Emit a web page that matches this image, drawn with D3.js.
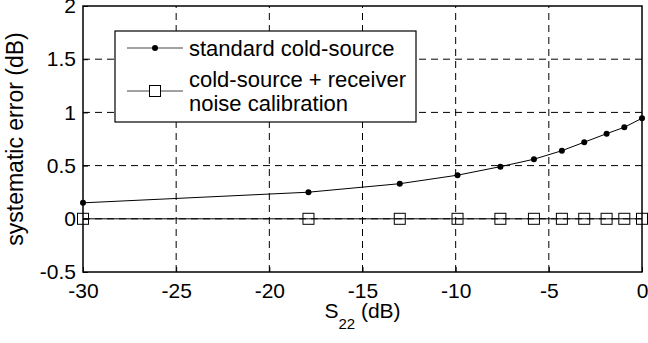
<!DOCTYPE html>
<html>
  <head>
    <meta charset="utf-8">
    <script src="https://cdn.jsdelivr.net/npm/d3@7"></script>
    <style>
      body { margin: 0; background: #fff; }
      text { font-family: "Liberation Sans", Arial, sans-serif; fill: #000; }
    </style>
  </head>
  <body>
    <script>
      // S22 values (dB)
      var s22 = [-30, -17.9, -13.0, -9.9, -7.6, -5.8, -4.3, -3.1, -1.9, -0.95, 0];
      // systematic error (dB), standard cold-source method
      var standardErr = [0.15, 0.25, 0.33, 0.41, 0.49, 0.56, 0.64, 0.72, 0.80, 0.86, 0.945];
      // systematic error (dB), cold-source + receiver noise calibration
      var calibratedErr = [0, 0, 0, 0, 0, 0, 0, 0, 0, 0, 0];

      var xTicks = [-30, -25, -20, -15, -10, -5, 0];
      var yTicks = [-0.5, 0, 0.5, 1, 1.5, 2];
      var legendLabels = [["standard cold-source"], ["cold-source + receiver", "noise calibration"]];

      var width = 648, height = 343;
      var margin = {top: 6, right: 6, bottom: 71, left: 83};

      var svg = d3.select("body").append("svg")
        .attr("width", width).attr("height", height);

      var x = d3.scaleLinear().domain([-30, 0])
        .range([margin.left, width - margin.right]);
      var y = d3.scaleLinear().domain([-0.5, 2])
        .range([height - margin.bottom, margin.top]);

      // dashed grid lines
      svg.append("g").selectAll("line").data(xTicks.slice(1, -1)).enter()
        .append("line")
        .attr("x1", function(d){ return x(d); }).attr("x2", function(d){ return x(d); })
        .attr("y1", y(-0.5)).attr("y2", y(2))
        .attr("stroke", "#000").attr("stroke-width", 1).attr("stroke-dasharray", "7,5");
      svg.append("g").selectAll("line").data(yTicks.slice(1, -1)).enter()
        .append("line")
        .attr("y1", function(d){ return y(d); }).attr("y2", function(d){ return y(d); })
        .attr("x1", x(-30)).attr("x2", x(0))
        .attr("stroke", "#000").attr("stroke-width", 1).attr("stroke-dasharray", "7,5");

      // axes, ticks pointing inward, plain hyphen for minus
      var xAxis = d3.axisBottom(x).tickValues(xTicks).tickSizeInner(-5).tickSizeOuter(0)
        .tickPadding(11).tickFormat(function(d){ return String(d); });
      var yAxis = d3.axisLeft(y).tickValues(yTicks).tickSizeInner(-5).tickSizeOuter(0)
        .tickPadding(7).tickFormat(function(d){ return String(d); });

      var gx = svg.append("g").attr("transform", "translate(0," + y(-0.5) + ")").call(xAxis);
      var gy = svg.append("g").attr("transform", "translate(" + x(-30) + ",0)").call(yAxis);
      [gx, gy].forEach(function(g){
        g.attr("font-size", null).attr("font-family", null);
        g.select(".domain").remove();
        g.selectAll("line").attr("stroke", "#000");
        g.selectAll("text").style("font-size", "21px");
      });

      // box round the plot
      svg.append("rect")
        .attr("x", x(-30)).attr("y", y(2))
        .attr("width", x(0) - x(-30)).attr("height", y(-0.5) - y(2))
        .attr("fill", "none").attr("stroke", "#000").attr("stroke-width", 1.5);

      var line = d3.line()
        .x(function(d){ return x(d[0]); })
        .y(function(d){ return y(d[1]); });

      var standardPts = s22.map(function(v, i){ return [v, standardErr[i]]; });
      var calibratedPts = s22.map(function(v, i){ return [v, calibratedErr[i]]; });

      svg.append("path").datum(standardPts).attr("d", line)
        .attr("fill", "none").attr("stroke", "#000").attr("stroke-width", 1);
      svg.append("g").selectAll("circle").data(standardPts).enter()
        .append("circle")
        .attr("cx", function(d){ return x(d[0]); })
        .attr("cy", function(d){ return y(d[1]); })
        .attr("r", 3).attr("fill", "#000");

      svg.append("path").datum(calibratedPts).attr("d", line)
        .attr("fill", "none").attr("stroke", "#000").attr("stroke-width", 1);
      svg.append("g").selectAll("rect").data(calibratedPts).enter()
        .append("rect")
        .attr("x", function(d){ return x(d[0]) - 5.5; })
        .attr("y", function(d){ return y(d[1]) - 5.5; })
        .attr("width", 11).attr("height", 11)
        .attr("fill", "none").attr("stroke", "#000").attr("stroke-width", 1);

      // axis titles
      var xt = svg.append("text")
        .attr("x", (x(-30) + x(0)) / 2).attr("y", 318)
        .attr("text-anchor", "middle").style("font-size", "21px");
      xt.append("tspan").text("S");
      xt.append("tspan").attr("dy", 11).style("font-size", "15px").text("22");
      xt.append("tspan").attr("dy", -11).text(" (dB)");

      svg.append("text")
        .attr("transform", "translate(23," + (y(-0.5) + y(2)) / 2 + ") rotate(-90)")
        .attr("text-anchor", "middle").style("font-size", "23px")
        .text("systematic error (dB)");

      // legend
      var lg = svg.append("g");
      lg.append("rect").attr("x", 115).attr("y", 31).attr("width", 301).attr("height", 91)
        .attr("fill", "#fff").attr("stroke", "#000").attr("stroke-width", 1.2);
      var rows = [48, 91];
      rows.forEach(function(ry){
        lg.append("line").attr("x1", 127).attr("x2", 183).attr("y1", ry).attr("y2", ry)
          .attr("stroke", "#444").attr("stroke-width", 1);
      });
      lg.append("circle").attr("cx", 155).attr("cy", rows[0]).attr("r", 3).attr("fill", "#000");
      lg.append("rect").attr("x", 149.5).attr("y", rows[1] - 5.5).attr("width", 11).attr("height", 11)
        .attr("fill", "#fff").attr("stroke", "#000").attr("stroke-width", 1);
      var baselines = [[56], [87, 111]];
      legendLabels.forEach(function(lines, i){
        lines.forEach(function(t, j){
          lg.append("text").attr("x", 189).attr("y", baselines[i][j])
            .style("font-size", "22px").text(t);
        });
      });
    </script>
  </body>
</html>
